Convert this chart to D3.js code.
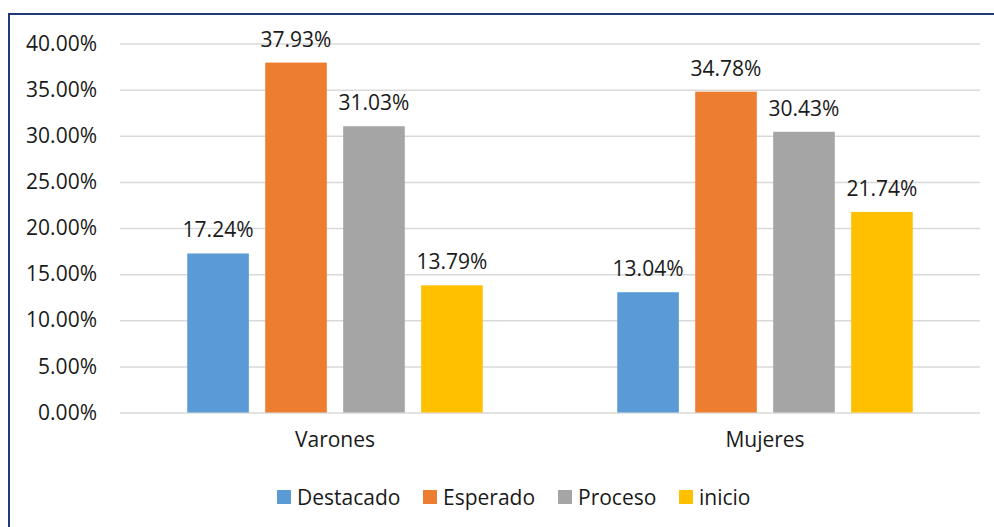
<!DOCTYPE html>
<html><head><meta charset="utf-8">
<script src="https://cdn.jsdelivr.net/npm/d3@7"></script>
<style>
html,body{margin:0;padding:0;background:#fff;}
svg{display:block;}
text{font-family:"Open Sans","Noto Sans",sans-serif;fill:#1a1a1a;}
</style></head>
<body>
<script>
const categories = ["Varones", "Mujeres"];
const series = ["Destacado", "Esperado", "Proceso", "inicio"];
const destacado = [17.24, 13.04];
const esperado = [37.93, 34.78];
const proceso = [31.03, 30.43];
const inicio = [13.79, 21.74];
const tickValues = [0, 5, 10, 15, 20, 25, 30, 35, 40];
const colors = ["#5B9BD5", "#ED7D31", "#A5A5A5", "#FFC000"];

(function () {
const values = [destacado, esperado, proceso, inicio];
const W = 994, H = 527;
const svg = d3.select("body").append("svg").attr("width", W).attr("height", H);

// border
svg.append("rect").attr("x", 9).attr("y", 14).attr("width", W + 10).attr("height", H + 10)
  .attr("fill", "none").attr("stroke", "#1F3A78").attr("stroke-width", 2);

const mL = 120, mR = 980, mT = 43.5, mB = 412.5;
const y = d3.scaleLinear().domain([0, 40]).range([mB, mT]);
const x0 = d3.scaleBand().domain(categories).range([mL, mR]).padding(0);
const groupW = 295.5;
const x1 = d3.scaleBand().domain(series)
  .range([(x0.bandwidth() - groupW) / 2, (x0.bandwidth() + groupW) / 2])
  .paddingInner(0.21).paddingOuter(0);

// gridlines
const yAxis = d3.axisLeft(y).tickValues(tickValues).tickSize(-(mR - mL))
  .tickFormat(d => d.toFixed(2) + "%").tickPadding(23);
const ga = svg.append("g").attr("transform", `translate(${mL},0)`).call(yAxis);
ga.select(".domain").remove();
ga.selectAll(".tick line").attr("stroke", "#D9D9D9").attr("stroke-width", 1.5);
ga.selectAll(".tick text").attr("font-size", 21).attr("fill", "#1a1a1a")
  .style("font-family", '"Open Sans","Noto Sans",sans-serif');

// bars
const groups = svg.append("g").selectAll("g").data(categories).join("g")
  .attr("transform", d => `translate(${x0(d)},0)`);
series.forEach((s, si) => {
  groups.append("rect")
    .attr("x", x1(s)).attr("width", x1.bandwidth())
    .attr("y", (d, ci) => y(values[si][ci]))
    .attr("height", (d, ci) => y(0) - y(values[si][ci]))
    .attr("fill", colors[si]);
  groups.append("text")
    .attr("x", x1(s) + x1.bandwidth() / 2)
    .attr("y", (d, ci) => y(values[si][ci]) - 16)
    .attr("text-anchor", "middle").attr("font-size", 21)
    .text((d, ci) => values[si][ci].toFixed(2) + "%");
});

// category labels
const xAxis = d3.axisBottom(x0).tickSize(0).tickPadding(20);
const gx = svg.append("g").attr("transform", `translate(0,${mB})`).call(xAxis);
gx.select(".domain").remove();
gx.selectAll(".tick text").attr("font-size", 21).attr("fill", "#1a1a1a")
  .style("font-family", '"Open Sans","Noto Sans",sans-serif');

// legend
const legendX = [277, 423, 558, 679];
const lg = svg.append("g");
series.forEach((s, i) => {
  lg.append("rect").attr("x", legendX[i]).attr("y", 490).attr("width", 14).attr("height", 14).attr("fill", colors[i]);
  lg.append("text").attr("x", legendX[i] + 20).attr("y", 504.5).attr("font-size", 21).text(s);
});
})();
</script>
</body></html>
